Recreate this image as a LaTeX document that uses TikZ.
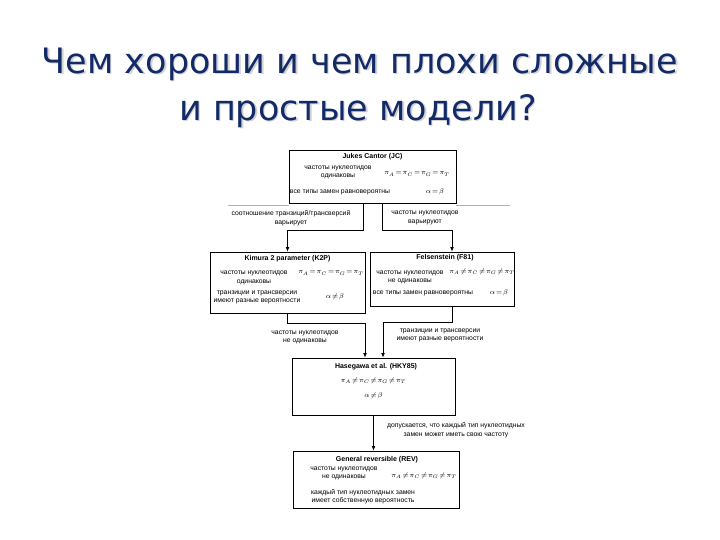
\documentclass[tikz,border=0pt]{standalone}
\usepackage{fontspec}
\setmainfont{Liberation Sans}
\newfontfamily\titlefont{DejaVu Sans}
\usetikzlibrary{arrows.meta}
\definecolor{titleblue}{RGB}{18,42,104}
\newcommand{\frm}[1]{$\thickmuskip=2mu #1$}

\begin{document}
\begin{tikzpicture}[
            x=1pt, y=1pt,
            box/.style={
                draw,
                line width=0.8pt,
                inner sep=0pt
            },
            boxtitle/.style={
                inner sep=0pt,
                font=\fontsize{7}{8.5}\selectfont\bfseries
            },
            txt/.style={
                align=center,
                inner sep=0pt,
                font=\fontsize{6.8}{8.6}\selectfont
            },
            formula/.style={
                inner sep=0pt,
                font=\fontsize{6.6}{8}\selectfont
            },
            conn/.style={
                draw,
                line width=0.7pt,
                -{Latex[length=4.5pt,width=3.8pt]}
            },
            heading/.style={
                inner sep=0pt,
                font=\titlefont\fontsize{35}{40}\selectfont
            }
        ]
            \fill[white] (0,0) rectangle (720,540);
            \useasboundingbox (0,0) rectangle (720,540);

            % title
            \node[heading, text=gray!35] (head1s) at (361.5,474.5) {Чем хороши и чем плохи сложные};
            \node[heading, text=gray!35] (head2s) at (359.5,427.5) {и простые модели?};
            \node[heading, text=titleblue] (head1) at (360,476) {Чем хороши и чем плохи сложные};
            \node[heading, text=titleblue] (head2) at (358,429) {и простые модели?};

            % Jukes Cantor
            \node[box, minimum width=167, minimum height=53] (jc) at (372.5,363.5) {};
            \node[boxtitle] (jct) at (372.5,383) {Jukes Cantor (JC)};
            \node[txt] (jcf) at (338,367.5) {частоты нуклеотидов\\одинаковы};
            \node[formula] (jcp) at (417,366) {\frm{\pi_A=\pi_C=\pi_G=\pi_T}};
            \node[txt] (jcs) at (340,348) {все типы замен равновероятны};
            \node[formula] (jca) at (435,348) {\frm{\alpha=\beta}};

            % Kimura
            \node[box, minimum width=155, minimum height=61] (k2p) at (287.5,257.5) {};
            \node[boxtitle] (k2pt) at (287.5,281) {Kimura 2 parameter (K2P)};
            \node[txt] (k2pf) at (254,262) {частоты нуклеотидов\\одинаковы};
            \node[formula] (k2pp) at (331,267) {\frm{\pi_A=\pi_C=\pi_G=\pi_T}};
            \node[txt] (k2ps) at (257,242.5) {транзиции и трансверсии\\имеют разные вероятности};
            \node[formula] (k2pa) at (335,243) {\frm{\alpha\neq\beta}};

            % Felsenstein
            \node[box, minimum width=144, minimum height=54] (f81) at (442,261) {};
            \node[boxtitle] (f81t) at (445,282) {Felsenstein (F81)};
            \node[txt] (f81f) at (410,262.5) {частоты нуклеотидов\\не одинаковы};
            \node[formula] (f81p) at (482,268) {\frm{\pi_A\neq\pi_C\neq\pi_G\neq\pi_T}};
            \node[txt] (f81s) at (423,247) {все типы замен равновероятны};
            \node[formula] (f81a) at (499,247) {\frm{\alpha=\beta}};

            % Hasegawa
            \node[box, minimum width=163, minimum height=57] (hky) at (373.5,153.5) {};
            \node[boxtitle] (hkyt) at (376,173) {Hasegawa et al. (HKY85)};
            \node[formula] (hkyp) at (373.5,159) {\frm{\pi_A\neq\pi_C\neq\pi_G\neq\pi_T}};
            \node[formula] (hkya) at (373.5,144) {\frm{\alpha\neq\beta}};

            % general reversible
            \node[box, minimum width=166, minimum height=57] (rev) at (376,60.5) {};
            \node[boxtitle] (revt) at (377,80) {General reversible (REV)};
            \node[txt] (revf) at (344,66.5) {частоты нуклеотидов\\не одинаковы};
            \node[formula] (revp) at (424,64) {\frm{\pi_A\neq\pi_C\neq\pi_G\neq\pi_T}};
            \node[txt] (revs) at (363,43.5) {каждый тип нуклеотидных замен\\имеет собственную вероятность};

            % labels on the connectors
            \node[txt] (lab1) at (291,322) {соотношение транзиций/трансверсий\\варьирует};
            \node[txt] (lab2) at (425,322) {частоты нуклеотидов\\варьируют};
            \node[txt] (lab3) at (305,202.5) {частоты нуклеотидов\\не одинаковы};
            \node[txt] (lab4) at (440,204.5) {транзиции и трансверсии\\имеют разные вероятности};
            \node[txt] (lab5) at (456,110) {допускается, что каждый тип нуклеотидных\\замен может иметь свою частоту};

            \draw[gray!60, line width=0.4pt] (228,335) -- (jc.south west |- 0,335);
            \draw[gray!60, line width=0.4pt] (jc.south east |- 0,335) -- (510,335);

            \draw[conn] ([xshift=-9.5]jc.south) -- ++(0,-27) -| (k2p.north);
            \draw[conn] ([xshift=9.5]jc.south) -- ++(0,-27) -| ([xshift=10]f81.north);
            \draw[conn] (k2p.south) -- ++(0,-10) -| ([xshift=-8.5]hky.north);
            \draw[conn] ([xshift=10]f81.south) -- ++(0,-16) -| ([xshift=9.5]hky.north);
            \draw[conn] (hky.south) -- (hky.south |- rev.north);
        \end{tikzpicture}
\end{document}
